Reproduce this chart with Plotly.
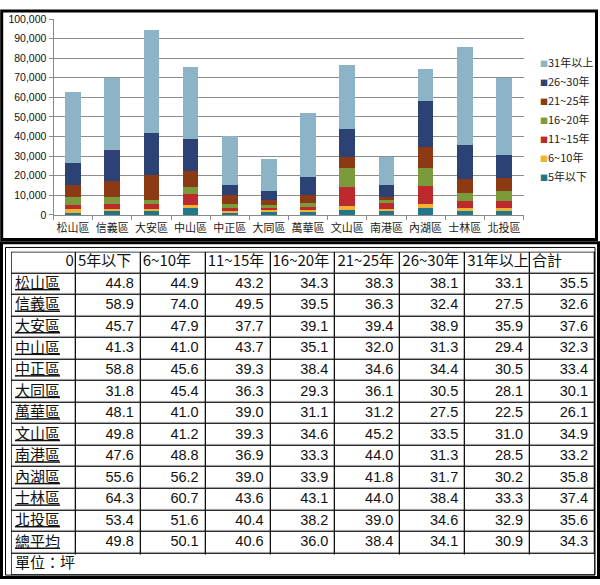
import plotly.graph_objects as go

# ---------------- data ----------------
districts = ["松山區", "信義區", "大安區", "中山區", "中正區", "大同區",
             "萬華區", "文山區", "南港區", "內湖區", "士林區", "北投區"]

series_names = ["5年以下", "6~10年", "11~15年", "16~20年", "21~25年", "26~30年", "31年以上"]
s_0_5 = [1200, 2000, 2000, 3300, 1200, 1500, 1500, 2500, 2200, 3300, 2000, 2000]
s_6_10 = [2000, 1000, 1000, 2000, 700, 800, 1000, 2200, 1000, 2500, 1600, 1600]
s_11_15 = [2000, 2500, 2500, 5300, 1500, 1200, 1500, 9700, 2800, 9200, 3400, 3400]
s_16_20 = [4000, 3700, 2300, 3800, 2000, 1500, 2000, 9700, 1800, 9200, 4100, 5200]
s_21_25 = [6000, 8000, 12700, 7900, 5000, 2500, 4300, 5500, 1500, 10300, 7200, 6500]
s_26_30 = [11500, 15800, 21500, 16300, 5000, 4500, 9200, 14300, 6200, 23800, 17500, 12100]
s_31 = [36300, 37000, 52500, 36700, 25000, 16300, 32500, 32700, 14100, 16400, 49700, 39200]
series_values = [s_0_5, s_6_10, s_11_15, s_16_20, s_21_25, s_26_30, s_31]
series_colors = ["#217689", "#F0B234", "#BD2A2D", "#7A9A3B", "#8C3A13", "#2C4274", "#8DB3C6"]

y_ticks = list(range(0, 100001, 10000))

table_header = ["0", "5年以下", "6~10年", "11~15年", "16~20年", "21~25年", "26~30年", "31年以上", "合計"]
table_rows = districts + ["總平均"]
table_values = [
    [44.8, 44.9, 43.2, 34.3, 38.3, 38.1, 33.1, 35.5],
    [58.9, 74.0, 49.5, 39.5, 36.3, 32.4, 27.5, 32.6],
    [45.7, 47.9, 37.7, 39.1, 39.4, 38.9, 35.9, 37.6],
    [41.3, 41.0, 43.7, 35.1, 32.0, 31.3, 29.4, 32.3],
    [58.8, 45.6, 39.3, 38.4, 34.6, 34.4, 30.5, 33.4],
    [31.8, 45.4, 36.3, 29.3, 36.1, 30.5, 28.1, 30.1],
    [48.1, 41.0, 39.0, 31.1, 31.2, 27.5, 22.5, 26.1],
    [49.8, 41.2, 39.3, 34.6, 45.2, 33.5, 31.0, 34.9],
    [47.6, 48.8, 36.9, 33.3, 44.0, 31.3, 28.5, 33.2],
    [55.6, 56.2, 39.0, 33.9, 41.8, 31.7, 30.2, 35.8],
    [64.3, 60.7, 43.6, 43.1, 44.0, 38.4, 33.3, 37.4],
    [53.4, 51.6, 40.4, 38.2, 39.0, 34.6, 32.9, 35.6],
    [49.8, 50.1, 40.6, 36.0, 38.4, 34.1, 30.9, 34.3],
]
unit_note = "單位：坪"

# ---------------- layout constants (px) ----------------
W, H = 600, 585
def px_x(p):
    return p / W
def px_y(p):
    return 1 - p / H

fig = go.Figure()

# ---------------- stacked bars ----------------
for name, vals, col in zip(series_names, series_values, series_colors):
    fig.add_trace(go.Bar(x=districts, y=vals, name=name, marker=dict(color=col, line=dict(width=0)),
                         showlegend=False, hoverinfo="skip", xaxis="x", yaxis="y"))

# legend entries (small coloured square glyph next to the text, top item = 31年以上)
for name, col in reversed(list(zip(series_names, series_colors))):
    fig.add_trace(go.Scatter(x=[None], y=[None], mode="none",
                             name=f"<span style='color:{col};font-size:8px'>■</span>{name}",
                             xaxis="x", yaxis="y", hoverinfo="skip"))

# ---------------- table ----------------
ncol = len(table_header)
nrow = len(table_rows) + 2  # header + rows + unit row
fig.add_trace(go.Heatmap(
    z=[[0] * ncol for _ in range(nrow)], x=list(range(ncol)), y=list(range(nrow)),
    colorscale=[[0, "white"], [1, "white"]], showscale=False, xgap=1.3, ygap=1.3,
    hoverinfo="skip", xaxis="x2", yaxis="y2"))

cjk_font = "Noto Sans CJK TC, sans-serif"
num_font = "Liberation Sans, Arial, sans-serif"
cw = (595 - 11) / ncol  # px per column

# header
hx, hy, ht, hp = [], [], [], []
for j, h in enumerate(table_header):
    if j == 0:
        hx.append(j + 0.5 - 2 / cw); hp.append("middle left")
    else:
        hx.append(j - 0.5 + 2 / cw); hp.append("middle right")
    hy.append(0); ht.append(h)
fig.add_trace(go.Scatter(x=hx, y=hy, text=ht, mode="text", textposition=hp,
                         textfont=dict(family=cjk_font, size=15, color="#111"),
                         xaxis="x2", yaxis="y2", showlegend=False, hoverinfo="skip"))

# row names (underlined)
fig.add_trace(go.Scatter(x=[-0.5 + 4 / cw] * len(table_rows), y=list(range(1, len(table_rows) + 1)),
                         text=table_rows, mode="text", textposition="middle right",
                         textfont=dict(family=cjk_font, size=15, color="#111", lineposition="under"),
                         xaxis="x2", yaxis="y2", showlegend=False, hoverinfo="skip"))

# numbers
nx, ny, nt = [], [], []
for i, row in enumerate(table_values):
    for j, v in enumerate(row):
        nx.append(j + 1 + 0.5 - 7 / cw); ny.append(i + 1); nt.append(f"{v:.1f}")
fig.add_trace(go.Scatter(x=nx, y=ny, text=nt, mode="text", textposition="middle left",
                         textfont=dict(family=num_font, size=14.5, color="#111"),
                         xaxis="x2", yaxis="y2", showlegend=False, hoverinfo="skip"))

# unit note
fig.add_trace(go.Scatter(x=[-0.5 + 4 / cw], y=[nrow - 1], text=[unit_note], mode="text",
                         textposition="middle right",
                         textfont=dict(family=cjk_font, size=15, color="#111"),
                         xaxis="x2", yaxis="y2", showlegend=False, hoverinfo="skip"))

shapes = [
    # black backing for table grid (all rows except unit row)
    dict(type="rect", xref="x2", yref="y2", x0=-0.5, x1=ncol - 0.5, y0=-0.5, y1=nrow - 1.5 + 0.04,
         fillcolor="#111", line=dict(width=0), layer="below"),
    # table outer border
    dict(type="rect", xref="x2", yref="y2", x0=-0.5, x1=ncol - 0.5, y0=-0.5, y1=nrow - 0.5,
         line=dict(color="#111", width=1.5)),
    # chart panel frame
    dict(type="rect", xref="paper", yref="paper", x0=px_x(1.7), x1=px_x(596.5), y0=px_y(238.5), y1=px_y(5),
         line=dict(color="black", width=3)),
    # table panel frames
    dict(type="rect", xref="paper", yref="paper", x0=px_x(1.5), x1=px_x(598.5), y0=px_y(583.5), y1=px_y(241.8),
         line=dict(color="black", width=3)),
    dict(type="rect", xref="paper", yref="paper", x0=px_x(5.5), x1=px_x(595), y0=px_y(581), y1=px_y(246.5),
         line=dict(color="black", width=1)),
]

fig.update_layout(
    width=W, height=H,
    margin=dict(l=0, r=0, t=0, b=0),
    paper_bgcolor="white", plot_bgcolor="white",
    barmode="stack", bargap=0.6,
    font=dict(family="Noto Sans CJK TC, sans-serif", color="#222"),
    xaxis=dict(domain=[px_x(53.5), px_x(523.5)], anchor="y", type="category",
               showline=True, linecolor="#8a8a8a", linewidth=1, tickangle=0,
               ticks="outside", tickson="boundaries", ticklen=4, tickcolor="#8a8a8a",
               ticklabelstandoff=3,
               tickfont=dict(size=11, color="#222", family="Noto Sans CJK TC"), showgrid=False),
    yaxis=dict(domain=[px_y(213.3), px_y(13.3)], anchor="x", range=[0, 100000],
               tickvals=y_ticks, tickformat=",", showline=True, linecolor="#8a8a8a", linewidth=1,
               ticks="outside", ticklen=4, tickcolor="#8a8a8a",
               gridcolor="#8c8c8c", gridwidth=1, zeroline=False,
               tickfont=dict(size=10.5, color="#111", family="Liberation Sans")),
    xaxis2=dict(domain=[px_x(11), px_x(595)], anchor="y2", range=[-0.5, ncol - 0.5], visible=False),
    yaxis2=dict(domain=[px_y(581), px_y(251)], anchor="x2", range=[nrow - 0.5, -0.5], visible=False),
    legend=dict(x=px_x(500), y=px_y(43), xanchor="left", yanchor="top", traceorder="normal",
                bgcolor="rgba(0,0,0,0)", font=dict(size=11, color="#222", family="Noto Sans CJK TC"),
                tracegroupgap=0, itemwidth=30),
    shapes=shapes,
)

fig.write_html("out.html")
